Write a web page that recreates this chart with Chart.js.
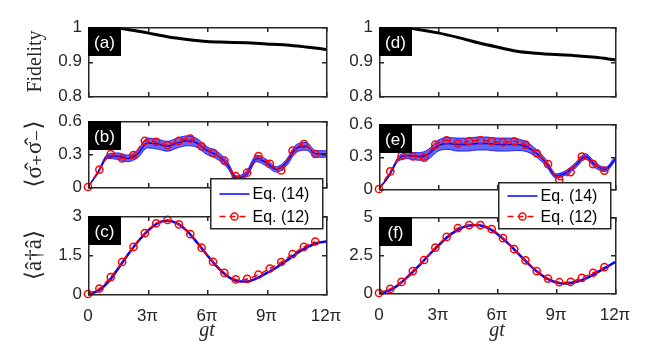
<!DOCTYPE html>
<html>
<head>
<meta charset="utf-8">
<script src="https://cdn.jsdelivr.net/npm/chart.js@4.4.1/dist/chart.umd.min.js"></script>
<style>
  html, body { margin: 0; padding: 0; background: #fff; }
  #wrap { position: relative; width: 664px; height: 345px; overflow: hidden; }
  #wrap canvas { position: absolute; }
</style>
</head>
<body>
<div id="wrap"></div>
<script>
// x positions in units of pi (gt / pi)
const xFine = [0, 0.5, 1, 1.5, 2, 2.5, 3, 3.5, 4, 4.5, 5, 5.5, 6, 6.5, 7, 7.5, 8, 8.5, 9, 9.5, 10, 10.5, 11, 11.5, 12];
const xMark = [0, 0.573, 1.146, 1.719, 2.292, 2.865, 3.438, 4.011, 4.584, 5.157, 5.73, 6.303, 6.876, 7.449, 8.022, 8.595, 9.168, 9.741, 10.314, 10.887, 11.46];
const xFid = [0, 1, 2, 3, 4, 5, 6, 7, 8, 9, 10, 11, 12];

const xTicks = [0, 3, 6, 9, 12];
const xTickLabels = ['0', '3π', '6π', '9π', '12π'];

// (a) and (d) fidelity
const fidA = [1.0, 0.999, 0.993, 0.983, 0.972, 0.964, 0.958, 0.956, 0.954, 0.951, 0.948, 0.942, 0.935];
const fidD = [1.0, 0.999, 0.993, 0.983, 0.970, 0.955, 0.942, 0.930, 0.924, 0.920, 0.917, 0.912, 0.905];

// (b) <s+ s->, Eq. (14) centre + fast-oscillation envelope, Eq. (12) markers
const sigB   = [0, 0.13, 0.28, 0.28, 0.26, 0.30, 0.40, 0.39, 0.37, 0.40, 0.42, 0.40, 0.33, 0.29, 0.21, 0.08, 0.12, 0.26, 0.22, 0.16, 0.22, 0.35, 0.37, 0.30, 0.30];
const sigBHi = [0, 0.14, 0.30, 0.31, 0.29, 0.335, 0.445, 0.435, 0.415, 0.445, 0.465, 0.44, 0.365, 0.325, 0.24, 0.10, 0.145, 0.29, 0.25, 0.185, 0.25, 0.385, 0.405, 0.33, 0.33];
const sigBLo = [0, 0.12, 0.26, 0.25, 0.23, 0.265, 0.355, 0.345, 0.325, 0.355, 0.375, 0.36, 0.295, 0.255, 0.18, 0.06, 0.095, 0.23, 0.19, 0.135, 0.19, 0.315, 0.335, 0.27, 0.27];
const sigBMk = [0, 0.158, 0.30, 0.26, 0.29, 0.42, 0.41, 0.38, 0.42, 0.44, 0.37, 0.31, 0.24, 0.10, 0.13, 0.28, 0.21, 0.15, 0.33, 0.39, 0.30];

// (e)
const sigE   = [0, 0.12, 0.28, 0.31, 0.30, 0.32, 0.40, 0.42, 0.41, 0.41, 0.42, 0.42, 0.41, 0.41, 0.41, 0.39, 0.33, 0.24, 0.12, 0.15, 0.22, 0.30, 0.22, 0.18, 0.275];
const sigEHi = [0, 0.13, 0.30, 0.34, 0.335, 0.365, 0.45, 0.475, 0.47, 0.47, 0.48, 0.48, 0.47, 0.47, 0.465, 0.435, 0.365, 0.27, 0.14, 0.17, 0.245, 0.325, 0.245, 0.20, 0.295];
const sigELo = [0, 0.11, 0.26, 0.28, 0.265, 0.275, 0.35, 0.365, 0.35, 0.35, 0.36, 0.36, 0.35, 0.35, 0.355, 0.345, 0.295, 0.21, 0.10, 0.13, 0.195, 0.275, 0.195, 0.16, 0.255];
const sigEMk = [0, 0.162, 0.306, 0.30, 0.29, 0.41, 0.45, 0.42, 0.44, 0.45, 0.44, 0.43, 0.44, 0.41, 0.33, 0.23, 0.086, 0.156, 0.30, 0.23, 0.17];

// (c) and (f) <a+ a>
const nC   = [0, 0.12, 0.45, 0.95, 1.5, 2.0, 2.42, 2.72, 2.82, 2.72, 2.42, 1.98, 1.5, 1.05, 0.7, 0.5, 0.48, 0.6, 0.8, 1.02, 1.28, 1.55, 1.78, 1.95, 2.02];
const nCMk = [0, 0.21, 0.65, 1.23, 1.81, 2.34, 2.72, 2.85, 2.68, 2.30, 1.78, 1.24, 0.81, 0.56, 0.58, 0.75, 0.98, 1.23, 1.53, 1.81, 2.02];
const nF   = [0, 0.15, 0.55, 1.12, 1.75, 2.45, 3.1, 3.7, 4.15, 4.42, 4.48, 4.3, 3.9, 3.35, 2.7, 2.05, 1.45, 0.98, 0.7, 0.62, 0.72, 0.95, 1.28, 1.65, 2.04];
const nFMk = [0, 0.27, 0.73, 1.44, 2.17, 2.99, 3.69, 4.27, 4.47, 4.47, 4.2, 3.61, 2.88, 2.15, 1.44, 0.95, 0.71, 0.73, 1.0, 1.33, 1.70];

const INK = '#262626';
const LW = 1.5; // frame / tick thickness
const TICK_FONT = { family: '"Liberation Sans", Arial, sans-serif', size: 17 };
const SERIF = '"Liberation Serif", "DejaVu Serif", serif';

function pts(xs, ys) {
  return xs.map((x, i) => ({ x: x, y: ys[i] }));
}

function blueLine(ys, width) {
  return { label: 'Eq. (14)', inLegend: true, data: pts(xFine, ys), borderColor: '#0000ff', borderWidth: width,
    pointRadius: 0, cubicInterpolationMode: 'monotone', order: 3 };
}

function redMarks(ys) {
  return { label: 'Eq. (12)', inLegend: true, data: pts(xMark, ys), borderColor: '#ff0000', borderWidth: 1.5,
    borderDash: [6, 4], tension: 0.3, pointRadius: 3.6, pointBorderWidth: 1.5,
    pointBackgroundColor: 'rgba(0,0,0,0)', pointBorderColor: '#ff0000', clip: false, order: 1 };
}

function band(hi, lo) {
  return [
    { label: 'hi', data: pts(xFine, hi), borderColor: '#0000ff', borderWidth: 0.8, pointRadius: 0,
      cubicInterpolationMode: 'monotone', order: 4 },
    { label: 'lo', data: pts(xFine, lo), borderColor: '#0000ff', borderWidth: 0.8, pointRadius: 0,
      cubicInterpolationMode: 'monotone', fill: '-1', backgroundColor: 'rgba(0,0,255,0.6)', order: 5 }
  ];
}

// frame with inward ticks, the black panel tag, and (for b / e) the boxed legend
const panelBox = {
  id: 'panelBox',
  afterDatasetsDraw(chart, args, o) {
    const { ctx, chartArea: a, scales } = chart;
    const x = scales.x, y = scales.y;
    const w = a.right - a.left, h = a.bottom - a.top;
    ctx.save();
    ctx.fillStyle = INK;
    ctx.fillRect(a.left, a.top, w + LW, LW);
    ctx.fillRect(a.left, a.bottom, w + LW, LW);
    ctx.fillRect(a.left, a.top, LW, h + LW);
    ctx.fillRect(a.right, a.top, LW, h + LW);
    x.ticks.forEach(t => {
      const px = Math.round(x.getPixelForValue(t.value));
      ctx.fillRect(px, a.bottom - 4, LW, 4);
      ctx.fillRect(px, a.top + 1, LW, 4);
    });
    y.ticks.forEach(t => {
      const py = Math.round(y.getPixelForValue(t.value));
      ctx.fillRect(a.left + 1, py, 4, LW);
      ctx.fillRect(a.right - 4, py, 4, LW);
    });
    ctx.fillStyle = '#000';
    ctx.fillRect(a.left, a.top, 33, 29);
    ctx.fillStyle = '#fff';
    ctx.font = '17px "Liberation Sans", Arial, sans-serif';
    ctx.textAlign = 'center';
    ctx.textBaseline = 'middle';
    ctx.fillText(o.tag, a.left + 16.5, a.top + 16);
    ctx.restore();
  },
  afterDraw(chart, args, o) {
    const L = o.legend;
    if (!L || !L.show) return;
    const ctx = chart.ctx;
    const items = chart.data.datasets.filter(d => d.inLegend).slice().sort((p, q) => q.order - p.order);
    ctx.save();
    ctx.fillStyle = INK;
    ctx.fillRect(L.x, L.y, L.w + LW, L.h + LW);
    ctx.fillStyle = '#fff';
    ctx.fillRect(L.x + LW, L.y + LW, L.w - LW, L.h - LW);
    items.forEach((d, i) => {
      const cy = L.rows[i];
      const x0 = L.x + 9.5, x1 = L.x + 39.5;
      ctx.strokeStyle = d.borderColor;
      ctx.lineWidth = 1.5;
      ctx.setLineDash(d.borderDash || []);
      ctx.beginPath(); ctx.moveTo(x0, cy); ctx.lineTo(x1, cy); ctx.stroke();
      ctx.setLineDash([]);
      if (d.pointRadius) {
        ctx.lineWidth = d.pointBorderWidth;
        ctx.beginPath(); ctx.arc((x0 + x1) / 2, cy, d.pointRadius, 0, 2 * Math.PI); ctx.stroke();
      }
      ctx.fillStyle = '#000';
      ctx.font = '16px "Liberation Sans", Arial, sans-serif';
      ctx.textAlign = 'left';
      ctx.textBaseline = 'middle';
      ctx.fillText(d.label, x1 + 3, cy + 1);
    });
    ctx.restore();
  }
};

// p.box = canvas rect in page pixels [x, y, w, h]; p.area = plot area in page pixels [l, t, r, b]
function panel(p) {
  const [cx, cy, cw, ch] = p.box;
  const a = p.area;
  const cv = document.createElement('canvas');
  cv.width = cw; cv.height = ch;
  cv.style.left = cx + 'px';
  cv.style.top = cy + 'px';
  document.getElementById('wrap').appendChild(cv);
  const showX = p.showX;
  const xAxisH = showX ? cy + ch - a[3] : 0;
  const leg = p.legend
    ? { show: true, x: p.legend.x - cx, y: p.legend.y - cy, w: p.legend.w, h: p.legend.h, rows: p.legend.rows.map(r => r - cy) }
    : { show: false };
  new Chart(cv.getContext('2d'), {
    type: 'line',
    data: { datasets: p.datasets },
    options: {
      responsive: false,
      animation: false,
      devicePixelRatio: 1,
      events: [],
      layout: { padding: { left: p.axisLeft - cx, right: cx + cw - a[2], top: a[1] - cy, bottom: showX ? 0 : cy + ch - a[3] } },
      plugins: {
        legend: { display: false },
        tooltip: { enabled: false },
        panelBox: { tag: p.tag, legend: leg }
      },
      scales: {
        x: {
          type: 'linear', min: 0, max: 12,
          grid: { display: false, drawTicks: false }, border: { display: false },
          afterBuildTicks: s => { s.ticks = xTicks.map(v => ({ value: v })); },
          afterFit: s => { s.height = xAxisH; s.paddingLeft = 0; s.paddingRight = 0; },
          ticks: { display: showX, padding: 12, color: INK, font: TICK_FONT, maxRotation: 0, autoSkip: false,
            callback: (v, i) => xTickLabels[i] },
          title: { display: showX, text: 'gt', color: INK,
            font: { family: SERIF, size: 20, style: 'italic' }, padding: { top: 0, bottom: 2 } }
        },
        y: {
          type: 'linear', min: p.yMin, max: p.yMax,
          grid: { display: false, drawTicks: false }, border: { display: false },
          afterBuildTicks: s => { s.ticks = p.yTicks.map(v => ({ value: v })); },
          afterFit: s => { s.width = a[0] - p.axisLeft; s.paddingTop = 0; s.paddingBottom = 0; },
          ticks: { padding: 6, color: INK, font: TICK_FONT, callback: (v, i) => p.yLabels[i] },
          title: { display: !!p.yTitle, text: p.yTitle || '', color: INK,
            font: { family: SERIF, size: p.yTitleSize || 20 }, padding: { top: p.yTitlePad || 24, bottom: 0 } }
        }
      }
    },
    plugins: [panelBox]
  });
}

const fidLine = ys => ({ label: 'Fidelity', data: pts(xFid, ys), borderColor: '#000', borderWidth: 3,
  pointRadius: 0, cubicInterpolationMode: 'monotone' });

// lower panels first so the legends of (b) and (e) sit on top of them
panel({ tag: '(c)', box: [0, 200, 345, 145], axisLeft: 0, area: [88, 216, 326, 294], showX: true, yMin: 0, yMax: 3,
  yTicks: [0, 1.5, 3], yLabels: ['0', '1.5', '3'], yTitle: '⟨â†â⟩', yTitleSize: 23, yTitlePad: 21,
  datasets: [redMarks(nCMk), blueLine(nC, 2.5)] });
panel({ tag: '(f)', box: [332, 200, 332, 145], axisLeft: 332, area: [379, 217, 615, 293], showX: true, yMin: 0, yMax: 5,
  yTicks: [0, 2.5, 5], yLabels: ['0', '2.5', '5'],
  datasets: [redMarks(nFMk), blueLine(nF, 2.5)] });
panel({ tag: '(a)', box: [0, 0, 345, 110], axisLeft: 0, area: [88, 27, 326, 96], showX: false, yMin: 0.8, yMax: 1,
  yTicks: [0.8, 0.9, 1], yLabels: ['0.8', '0.9', '1'], yTitle: 'Fidelity',
  datasets: [fidLine(fidA)] });
panel({ tag: '(d)', box: [332, 0, 332, 110], axisLeft: 332, area: [379, 27, 615, 96], showX: false, yMin: 0.8, yMax: 1,
  yTicks: [0.8, 0.9, 1], yLabels: ['0.8', '0.9', '1'],
  datasets: [fidLine(fidD)] });
panel({ tag: '(b)', box: [0, 105, 345, 130], axisLeft: 0, area: [88, 121, 326, 187], showX: false, yMin: 0, yMax: 0.6,
  yTicks: [0, 0.3, 0.6], yLabels: ['0', '0.3', '0.6'], yTitle: '⟨σ̂₊σ̂₋⟩', yTitleSize: 23, yTitlePad: 21,
  legend: { x: 210, y: 178, w: 112, h: 50, rows: [194, 216.5] },
  datasets: [redMarks(sigBMk), blueLine(sigB, 1.5)].concat(band(sigBHi, sigBLo)) });
panel({ tag: '(e)', box: [332, 105, 332, 130], axisLeft: 332, area: [379, 124, 615, 189], showX: false, yMin: 0, yMax: 0.6,
  yTicks: [0, 0.3, 0.6], yLabels: ['0', '0.3', '0.6'],
  legend: { x: 498, y: 182, w: 112, h: 46, rows: [196, 216.5] },
  datasets: [redMarks(sigEMk), blueLine(sigE, 1.5)].concat(band(sigEHi, sigELo)) });
</script>
</body>
</html>
